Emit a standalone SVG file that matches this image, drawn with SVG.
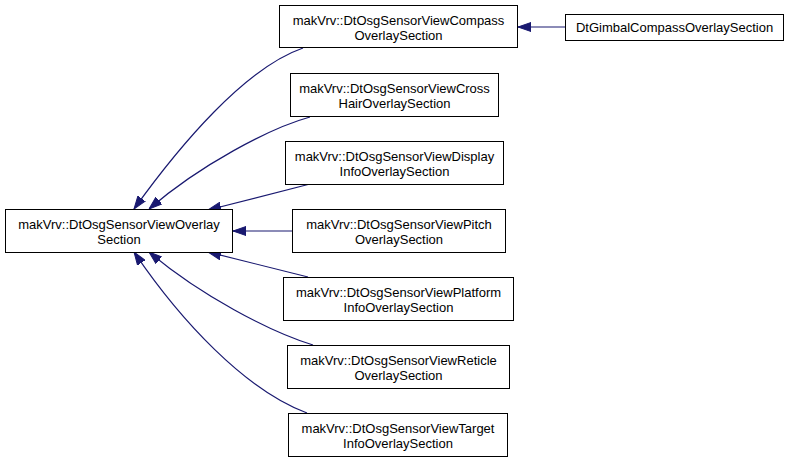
<svg xmlns="http://www.w3.org/2000/svg" width="792" height="463" viewBox="0 0 792 463">
<style>
.box{fill:#fff;stroke:#000;stroke-width:1}
.t{font-family:"Liberation Sans",Arial,sans-serif;font-size:13px;fill:#000;text-anchor:middle}
.e{fill:none;stroke:#191970;stroke-width:1.2}
</style>
<defs>
<marker id="ah" markerUnits="userSpaceOnUse" markerWidth="13" markerHeight="10" refX="13" refY="5" orient="auto">
<path d="M0,0.5 L13,5 L0,9.5 z" fill="#191970" stroke="#191970" stroke-width="1"/>
</marker>
</defs>
<rect width="792" height="463" fill="#fff"/>
<g id="edges">
<path class="e" d="M303,48 C245,68 180,145 134,209" marker-end="url(#ah)"/>
<path class="e" d="M310,117 C270,128 200,165 149,209" marker-end="url(#ah)"/>
<path class="e" d="M310,184 L208,210" marker-end="url(#ah)"/>
<path class="e" d="M292,231 L233,231" marker-end="url(#ah)"/>
<path class="e" d="M308,277 L208,252" marker-end="url(#ah)"/>
<path class="e" d="M313,345 C270,332 200,295 149,252" marker-end="url(#ah)"/>
<path class="e" d="M307,413 C245,390 180,320 134,252" marker-end="url(#ah)"/>
<path class="e" d="M565,27 L518,27" marker-end="url(#ah)"/>
</g>
<g id="n_main"><rect class="box" x="5.5" y="209.5" width="227" height="43"/><text class="t" x="119" y="229">makVrv::DtOsgSensorViewOverlay</text><text class="t" x="119" y="244">Section</text></g>
<g id="n_compass"><rect class="box" x="279.5" y="5.5" width="238" height="42"/><text class="t" x="398.5" y="25">makVrv::DtOsgSensorViewCompass</text><text class="t" x="398.5" y="40">OverlaySection</text></g>
<g id="n_gimbal"><rect class="box" x="565.5" y="14.5" width="218" height="26"/><text class="t" x="674.5" y="32">DtGimbalCompassOverlaySection</text></g>
<g id="n_cross"><rect class="box" x="290.5" y="73.5" width="208" height="43"/><text class="t" x="394.5" y="93">makVrv::DtOsgSensorViewCross</text><text class="t" x="394.5" y="108">HairOverlaySection</text></g>
<g id="n_display"><rect class="box" x="285.5" y="141.5" width="218" height="43"/><text class="t" x="394.5" y="161">makVrv::DtOsgSensorViewDisplay</text><text class="t" x="394.5" y="176">InfoOverlaySection</text></g>
<g id="n_pitch"><rect class="box" x="292.5" y="209.5" width="213" height="43"/><text class="t" x="399" y="229">makVrv::DtOsgSensorViewPitch</text><text class="t" x="399" y="244">OverlaySection</text></g>
<g id="n_platform"><rect class="box" x="283.5" y="277.5" width="230" height="43"/><text class="t" x="398.5" y="297">makVrv::DtOsgSensorViewPlatform</text><text class="t" x="398.5" y="312">InfoOverlaySection</text></g>
<g id="n_reticle"><rect class="box" x="287.5" y="345.5" width="222" height="43"/><text class="t" x="398.5" y="365">makVrv::DtOsgSensorViewReticle</text><text class="t" x="398.5" y="380">OverlaySection</text></g>
<g id="n_target"><rect class="box" x="288.5" y="413.5" width="219" height="43"/><text class="t" x="398" y="433">makVrv::DtOsgSensorViewTarget</text><text class="t" x="398" y="448">InfoOverlaySection</text></g>
</svg>
